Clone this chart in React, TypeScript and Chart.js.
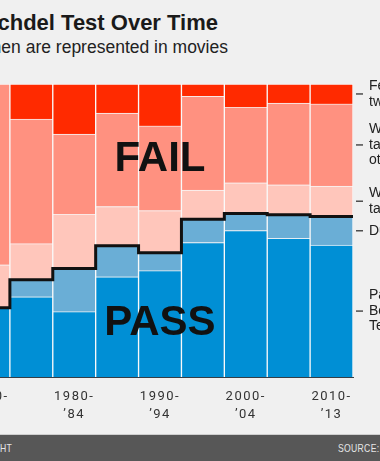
import React, { useEffect, useRef } from 'react';
import { Chart, registerables } from 'chart.js';

Chart.register(...registerables);

const categories = ['1970-74', '1975-79', '1980-84', '1985-89', '1990-94', '1995-99', '2000-04', '2005-09', '2010-13'];
const tickLabels: (string | string[])[] = [
  ['1970-', '’74'], '', ['1980-', '’84'], '', ['1990-', '’94'], '', ['2000-', '’04'], '', ['2010-', '’13'],
];

// percent of films in each category (bottom to top)
const passes = [23.6, 27.4, 22.3, 34.2, 36.3, 45.9, 50.0, 47.3, 45.0];
const dubious = [0.0, 5.8, 14.7, 10.6, 6.1, 7.9, 5.8, 8.1, 9.8];
const menOnly = [14.7, 12.3, 18.5, 13.4, 14.4, 10.0, 10.5, 10.2, 10.4];
const noTalk = [61.7, 42.5, 27.4, 31.9, 28.9, 32.0, 25.7, 27.9, 28.0];
const fewerTwo = [0.0, 12.0, 17.1, 9.9, 14.3, 4.2, 8.0, 6.5, 6.8];

const seriesNames = ['Passes Bechdel Test', 'Dubious', 'Women only talk about men', "Women don't talk to each other", 'Fewer than two women'];
const sideLabels = [['Passes', 'Bechdel', 'Test'], ['Dubious'], ['Women only', 'talk about men'], ["Women don't", 'talk to each', 'other'], ['Fewer than', 'two women']];
const seriesColors = ['#008fd5', '#6aaed6', '#ffc6bb', '#ff9180', '#ff2a00'];

const seriesValues = [passes, dubious, menOnly, noTalk, fewerTwo];

// big annotation words: [text, category index, value on y scale (baseline)]
const bigWords: [string, number, number][] = [
  ['FAIL', 4, 70.3],
  ['PASS', 4, 14.3],
];

const overlayPlugin = {
  id: 'overlay',
  beforeDraw(chart: any) {
    chart.ctx.letterSpacing = '1.5px';
  },
  beforeDatasetsDraw(chart: any) {
    chart.ctx.letterSpacing = '0px';
  },
  afterDatasetsDraw(chart: any) {
    const { ctx, chartArea } = chart;
    const x = chart.scales.x;
    const y = chart.scales.y;
    const half = (x.getPixelForValue(1) - x.getPixelForValue(0)) / 2;
    ctx.save();
    ctx.letterSpacing = '0px';
    // pass / fail step line
    ctx.beginPath();
    categories.forEach((_, i) => {
      const cx = x.getPixelForValue(i);
      const yy = y.getPixelForValue(passes[i] + dubious[i]);
      if (i === 0) ctx.moveTo(cx - half, yy);
      else ctx.lineTo(cx - half, yy);
      ctx.lineTo(cx + half, yy);
    });
    ctx.lineWidth = 3;
    ctx.strokeStyle = '#111';
    ctx.lineJoin = 'miter';
    ctx.lineCap = 'butt';
    ctx.stroke();

    // FAIL / PASS
    ctx.font = 'bold 42px "Liberation Sans", Arial, sans-serif';
    ctx.fillStyle = '#111';
    ctx.textAlign = 'center';
    ctx.textBaseline = 'alphabetic';
    bigWords.forEach(([t, idx, v]) => {
      ctx.fillText(t, x.getPixelForValue(idx), y.getPixelForValue(v));
    });

    // right side labels
    const last = categories.length - 1;
    let base = 0;
    ctx.font = '14px "Liberation Sans", Arial, sans-serif';
    ctx.textAlign = 'left';
    ctx.textBaseline = 'middle';
    const lh = 15.5;
    seriesValues.forEach((vals, k) => {
      const v = vals[last];
      const yy = y.getPixelForValue(base + v / 2);
      base += v;
      ctx.beginPath();
      ctx.moveTo(chartArea.right + 3, yy);
      ctx.lineTo(chartArea.right + 10, yy);
      ctx.lineWidth = 1.3;
      ctx.strokeStyle = '#333';
      ctx.stroke();
      const lines = sideLabels[k];
      ctx.fillStyle = '#222';
      lines.forEach((ln, j) => {
        ctx.fillText(ln, chartArea.right + 16, yy + (j - (lines.length - 1) / 2) * lh);
      });
    });
    ctx.restore();
  },
};

export default function App() {
  const canvasRef = useRef<HTMLCanvasElement>(null);

  useEffect(() => {
    if (!canvasRef.current) return;
    const chart = new Chart(canvasRef.current, {
      type: 'bar',
      data: {
        labels: categories,
        datasets: seriesValues.map((vals, k) => ({
          label: seriesNames[k],
          data: vals,
          backgroundColor: seriesColors[k],
          borderColor: 'rgba(255,255,255,0.55)',
          borderWidth: 1,
          barPercentage: 1,
          categoryPercentage: 1,
        })),
      },
      options: {
        responsive: false,
        animation: false,
        devicePixelRatio: 1,
        layout: { padding: { left: 7, right: 27, top: 84, bottom: 0 } },
        plugins: {
          legend: { display: false },
          tooltip: { enabled: false },
          title: { display: false },
        },
        scales: {
          x: {
            stacked: true,
            grid: { drawOnChartArea: false, drawTicks: false },
            border: { display: true, color: 'rgba(20,30,40,0.85)', width: 1 },
            ticks: {
              autoSkip: false,
              maxRotation: 0,
              minRotation: 0,
              padding: 11,
              color: '#333',
              font: { family: 'Roboto, "DejaVu Sans", sans-serif', size: 13, lineHeight: 1.35 },
              callback: (_v: any, i: number) => tickLabels[i],
            },
            afterFit: (s: any) => {
              s.height = 57;
            },
          },
          y: {
            stacked: true,
            display: false,
            min: 0,
            max: 100,
          },
        },
      },
      plugins: [overlayPlugin],
    });
    return () => chart.destroy();
  }, []);

  const footFont = '11.5px "Liberation Sans", Arial, sans-serif';

  return (
    <div style={{ position: 'fixed', left: 0, top: 0, width: 380, height: 461, overflow: 'hidden', background: '#f0f0f0' }}>
      <div
        style={{
          position: 'absolute', right: 162, top: 12, whiteSpace: 'nowrap',
          font: 'bold 22px "Liberation Sans", Arial, sans-serif', lineHeight: '22px', color: '#1a1a1a', letterSpacing: '0px',
        }}
      >
        The Bechdel Test Over Time
      </div>
      <div
        style={{
          position: 'absolute', right: 152, top: 38.7, whiteSpace: 'nowrap',
          font: '17.5px "Liberation Sans", Arial, sans-serif', lineHeight: '17.5px', color: '#222',
        }}
      >
        How women are represented in movies
      </div>
      <div style={{ position: 'absolute', left: -40, top: 0, width: 420, height: 434 }}>
        <canvas ref={canvasRef} width={420} height={434} style={{ display: 'block' }} />
      </div>
      <div style={{ position: 'absolute', left: 0, top: 434, width: 380, height: 27, background: '#575757', borderTop: '1px solid #cfcfcf', boxSizing: 'border-box' }}>
        <div
          style={{
            position: 'absolute', right: 368, top: 7.5, whiteSpace: 'nowrap', color: '#e6e6e6',
            font: footFont, lineHeight: '11.5px', letterSpacing: '0.4px',
            transform: 'scaleX(0.75)', transformOrigin: 'right center',
          }}
        >
          FIVETHIRTYEIGHT
        </div>
        <div
          style={{
            position: 'absolute', left: 338, top: 7.5, whiteSpace: 'nowrap', color: '#e6e6e6',
            font: footFont, lineHeight: '11.5px', letterSpacing: '0.4px',
            transform: 'scaleX(0.75)', transformOrigin: 'left center',
          }}
        >
          SOURCE: BECHDELTEST.COM
        </div>
      </div>
    </div>
  );
}
